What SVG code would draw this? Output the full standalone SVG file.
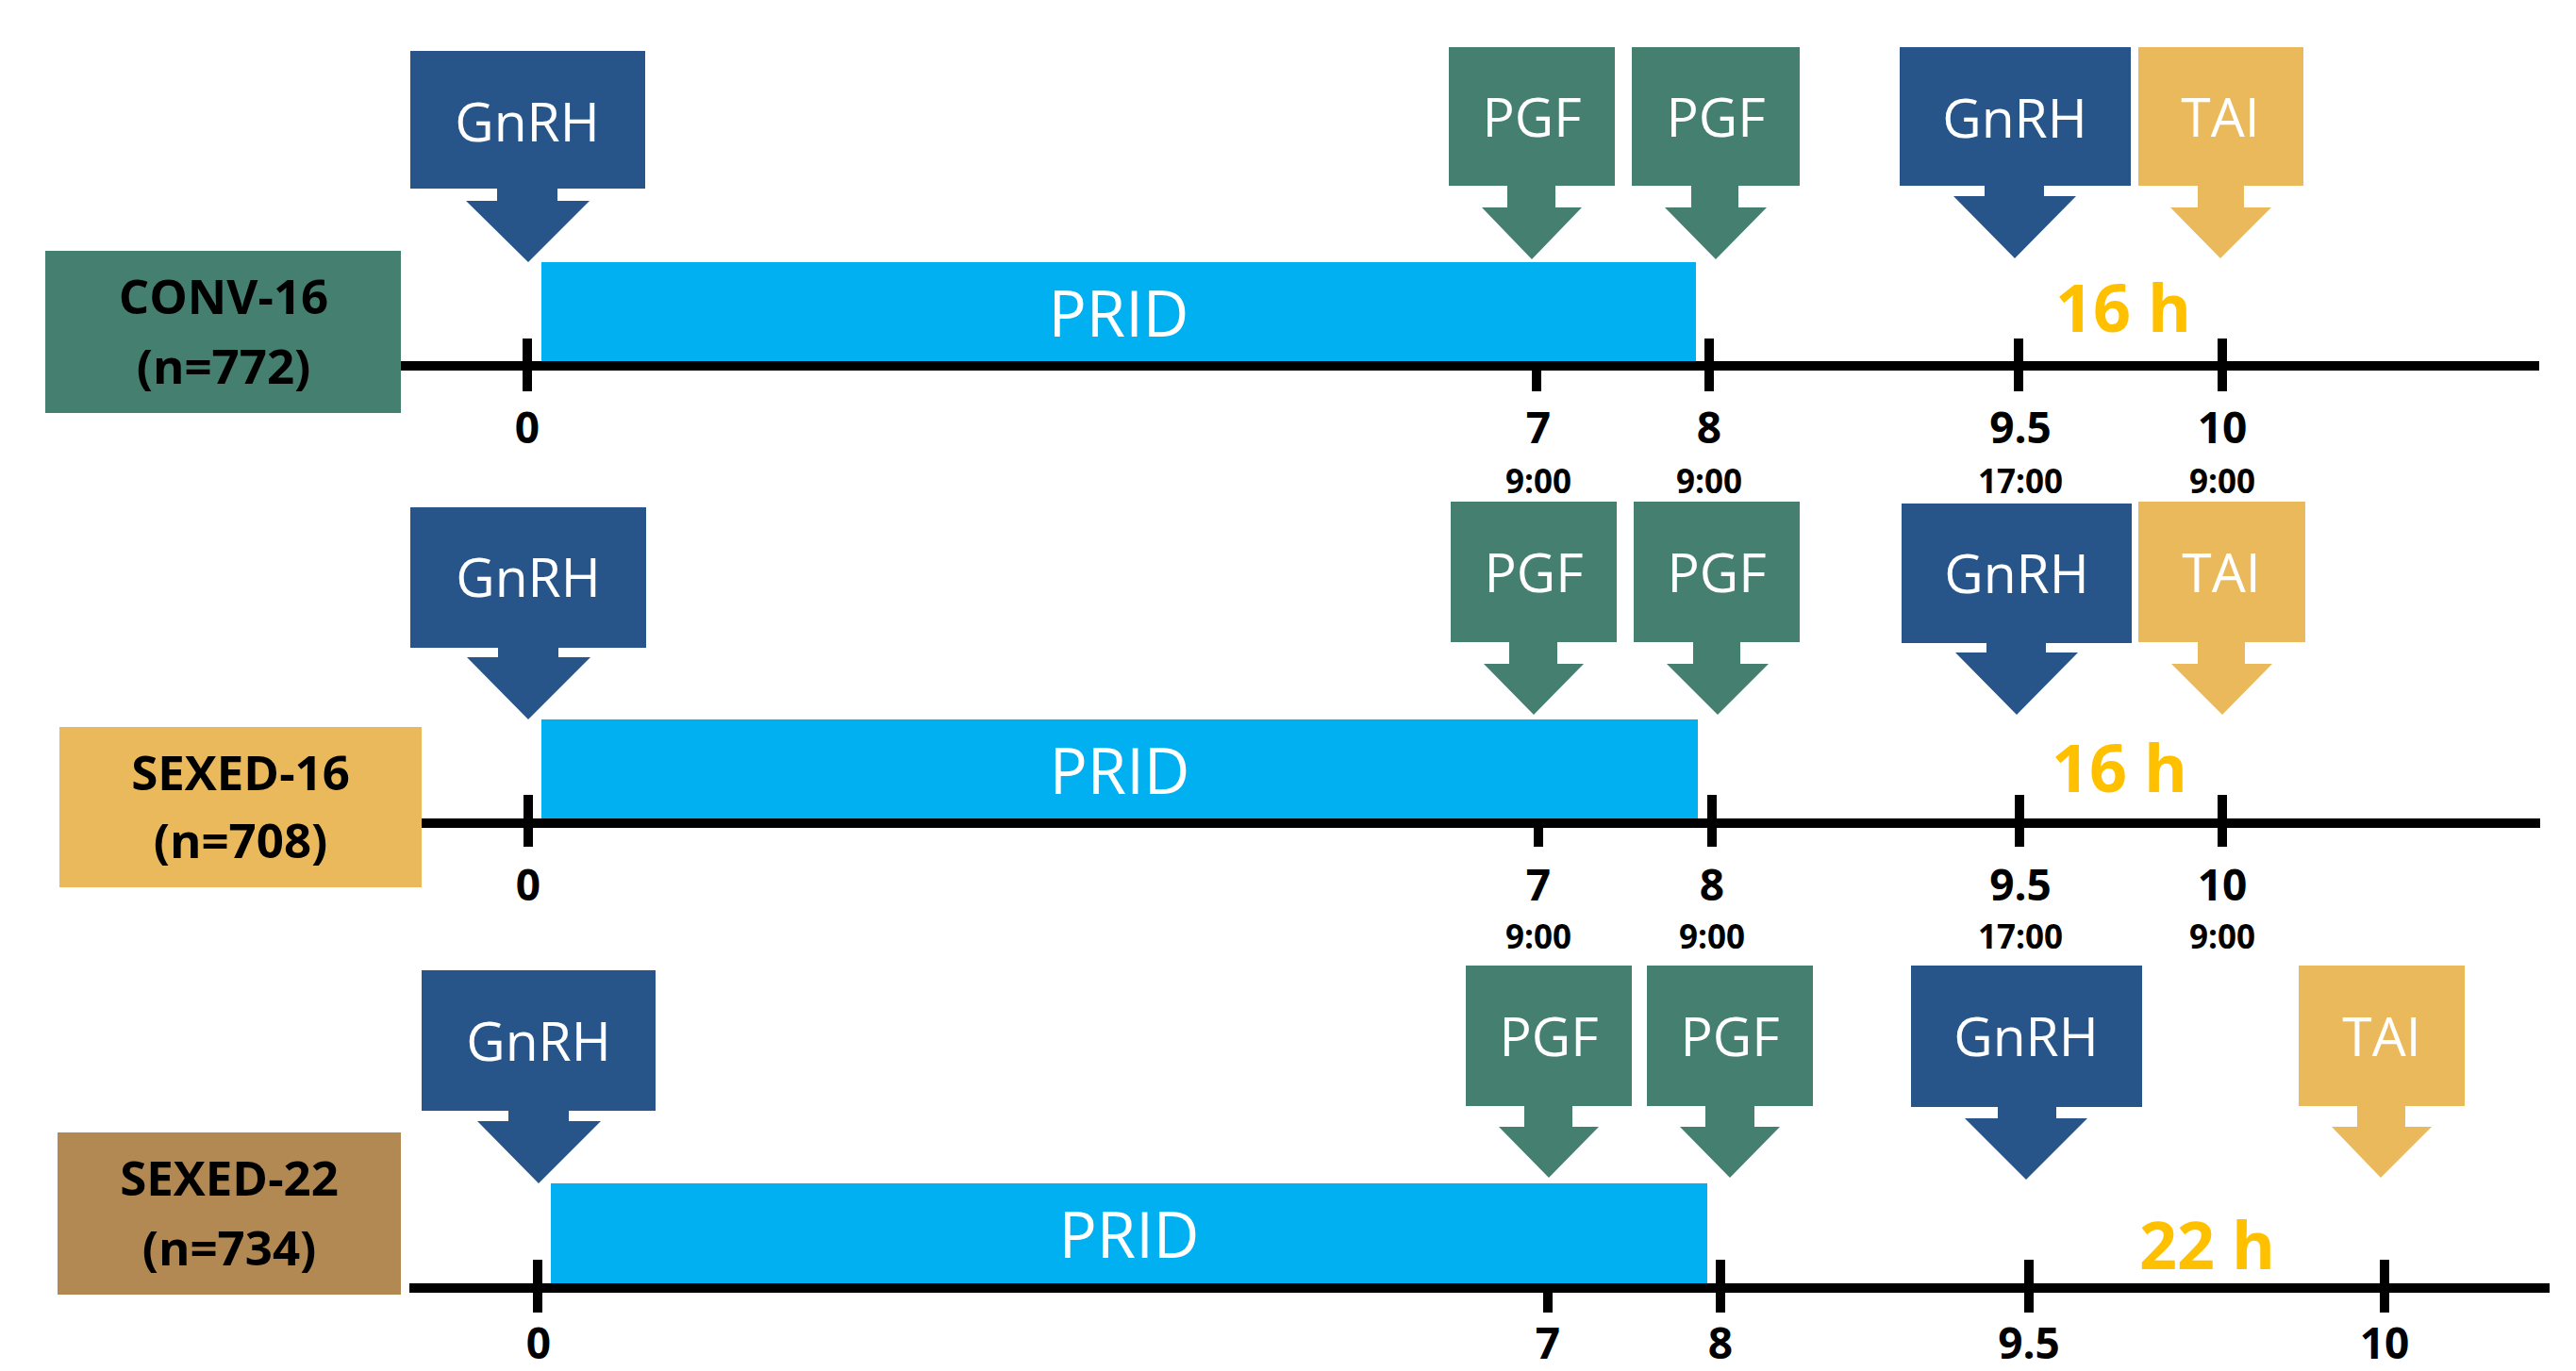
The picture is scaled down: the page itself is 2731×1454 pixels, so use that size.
<svg xmlns="http://www.w3.org/2000/svg" width="2731" height="1454" viewBox="0 0 2731 1454">
<style>
.teal{fill:#457F70}.navy{fill:#27558A}.gold{fill:#EAB95B}.brown{fill:#B28853}.cyan{fill:#00B0F0}
.wt{font-family:"Open Sans","Liberation Sans",sans-serif;fill:#fff;font-size:57px;text-anchor:middle}
.pt{font-family:"Open Sans","Liberation Sans",sans-serif;fill:#fff;font-size:67px;text-anchor:middle}
.gl{font-family:"Open Sans","Liberation Sans",sans-serif;font-weight:bold;fill:#000;font-size:51px;text-anchor:middle}
.tk{font-family:"Open Sans","Liberation Sans",sans-serif;font-weight:bold;fill:#000;font-size:46px;text-anchor:middle}
.tm{font-family:"Open Sans","Liberation Sans",sans-serif;font-weight:bold;fill:#000;font-size:35px;text-anchor:middle}
.hr{font-family:"Open Sans","Liberation Sans",sans-serif;font-weight:bold;fill:#FFC000;font-size:70px;text-anchor:middle}
.ax{stroke:#000;stroke-width:10;fill:none}
.tick{stroke:#000;stroke-width:10;fill:none}
</style>
<rect width="2731" height="1454" fill="#fff"/>

<g id="connectors">
  <line class="ax" x1="425" y1="388" x2="2692" y2="388"/>
  <path class="tick" d="M559 359V415M1629 359V415M1812 359V415M2140 359V415M2356 359V415"/>
  <line class="ax" x1="447" y1="873" x2="2693" y2="873"/>
  <path class="tick" d="M560 843V898M1631 843V898M1815 843V898M2141 843V898M2356 843V898"/>
  <line class="ax" x1="434" y1="1366" x2="2703" y2="1366"/>
  <path class="tick" d="M570 1336V1392M1641 1336V1392M1824 1336V1392M2151 1336V1392M2528 1336V1392"/>
</g>

<!-- Row 1 -->
<g id="conv16">
  <rect class="teal" x="48" y="266" width="377" height="172"/>
  <text class="gl" x="237" y="333">CONV-16</text>
  <text class="gl" x="237" y="407">(n=772)</text>
</g>
<g id="r1-prid">
  <rect class="cyan" x="574" y="278" width="1224" height="105"/>
  <text class="pt" x="1186" y="357">PRID</text>
</g>
<g id="r1-gnrh1">
  <path class="navy" d="M435 54H684V200H591V213H625L560 278L494 213H527V200H435Z"/>
  <text class="wt" x="559" y="150">GnRH</text>
</g>
<g id="r1-pgf1">
  <path class="teal" d="M1536 50H1712V197H1649V220H1677L1624 275L1571 220H1598V197H1536Z"/>
  <text class="wt" x="1624" y="145">PGF</text>
</g>
<g id="r1-pgf2">
  <path class="teal" d="M1730 50H1908V197H1843V220H1873L1819 275L1765 220H1793V197H1730Z"/>
  <text class="wt" x="1819" y="145">PGF</text>
</g>
<g id="r1-gnrh2">
  <path class="navy" d="M2014 50H2259V197H2167V208H2201L2136 274L2071 208H2104V197H2014Z"/>
  <text class="wt" x="2136" y="146">GnRH</text>
</g>
<g id="r1-tai">
  <path class="gold" d="M2267 50H2442V197H2379V220H2408L2354 274L2301 220H2330V197H2267Z"/>
  <text class="wt" x="2354" y="145">TAI</text>
</g>
<g id="r1-labels">
  <text class="hr" x="2251" y="352">16 h</text>
  <text class="tk" x="559" y="470">0</text>
  <text class="tk" x="1631" y="470">7</text>
  <text class="tk" x="1812" y="470">8</text>
  <text class="tk" x="2142" y="470">9.5</text>
  <text class="tk" x="2356" y="470">10</text>
  <text class="tm" x="1631" y="523">9:00</text>
  <text class="tm" x="1812" y="523">9:00</text>
  <text class="tm" x="2142" y="523">17:00</text>
  <text class="tm" x="2356" y="523">9:00</text>
</g>

<!-- Row 2 -->
<g id="sexed16">
  <rect class="gold" x="63" y="771" width="384" height="170"/>
  <text class="gl" x="255" y="838">SEXED-16</text>
  <text class="gl" x="255" y="910">(n=708)</text>
</g>
<g id="r2-prid">
  <rect class="cyan" x="574" y="763" width="1226" height="105"/>
  <text class="pt" x="1187" y="842">PRID</text>
</g>
<g id="r2-gnrh1">
  <path class="navy" d="M435 538H685V687H592V697H626L560 763L495 697H528V687H435Z"/>
  <text class="wt" x="560" y="633">GnRH</text>
</g>
<g id="r2-pgf1">
  <path class="teal" d="M1538 532H1714V681H1651V704H1679L1626 758L1573 704H1600V681H1538Z"/>
  <text class="wt" x="1626" y="628">PGF</text>
</g>
<g id="r2-pgf2">
  <path class="teal" d="M1732 532H1908V681H1845V704H1875L1821 758L1767 704H1795V681H1732Z"/>
  <text class="wt" x="1820" y="628">PGF</text>
</g>
<g id="r2-gnrh2">
  <path class="navy" d="M2016 534H2260V682H2169V692H2203L2138 758L2073 692H2106V682H2016Z"/>
  <text class="wt" x="2138" y="629">GnRH</text>
</g>
<g id="r2-tai">
  <path class="gold" d="M2267 532H2444V681H2380V704H2409L2356 758L2302 704H2330V681H2267Z"/>
  <text class="wt" x="2355" y="628">TAI</text>
</g>
<g id="r2-labels">
  <text class="hr" x="2247" y="840">16 h</text>
  <text class="tk" x="560" y="955">0</text>
  <text class="tk" x="1631" y="955">7</text>
  <text class="tk" x="1815" y="955">8</text>
  <text class="tk" x="2142" y="955">9.5</text>
  <text class="tk" x="2356" y="955">10</text>
  <text class="tm" x="1631" y="1006">9:00</text>
  <text class="tm" x="1815" y="1006">9:00</text>
  <text class="tm" x="2142" y="1006">17:00</text>
  <text class="tm" x="2356" y="1006">9:00</text>
</g>

<!-- Row 3 -->
<g id="sexed22">
  <rect class="brown" x="61" y="1201" width="364" height="172"/>
  <text class="gl" x="243" y="1268">SEXED-22</text>
  <text class="gl" x="243" y="1342">(n=734)</text>
</g>
<g id="r3-prid">
  <rect class="cyan" x="584" y="1255" width="1226" height="106"/>
  <text class="pt" x="1197" y="1334">PRID</text>
</g>
<g id="r3-gnrh1">
  <path class="navy" d="M447 1029H695V1178H603V1189H637L571 1255L506 1189H539V1178H447Z"/>
  <text class="wt" x="571" y="1125">GnRH</text>
</g>
<g id="r3-pgf1">
  <path class="teal" d="M1554 1024H1730V1173H1667V1195H1695L1642 1249L1589 1195H1616V1173H1554Z"/>
  <text class="wt" x="1642" y="1120">PGF</text>
</g>
<g id="r3-pgf2">
  <path class="teal" d="M1746 1024H1922V1173H1860V1195H1887L1834 1249L1781 1195H1808V1173H1746Z"/>
  <text class="wt" x="1834" y="1120">PGF</text>
</g>
<g id="r3-gnrh2">
  <path class="navy" d="M2026 1024H2271V1174H2180V1186H2213L2148 1251L2083 1186H2118V1174H2026Z"/>
  <text class="wt" x="2148" y="1120">GnRH</text>
</g>
<g id="r3-tai">
  <path class="gold" d="M2437 1024H2613V1173H2550V1195H2578L2524 1249L2472 1195H2499V1173H2437Z"/>
  <text class="wt" x="2525" y="1120">TAI</text>
</g>
<g id="r3-labels">
  <text class="hr" x="2340" y="1346">22 h</text>
  <text class="tk" x="571" y="1441">0</text>
  <text class="tk" x="1641" y="1441">7</text>
  <text class="tk" x="1824" y="1441">8</text>
  <text class="tk" x="2151" y="1441">9.5</text>
  <text class="tk" x="2528" y="1441">10</text>
</g>
</svg>
